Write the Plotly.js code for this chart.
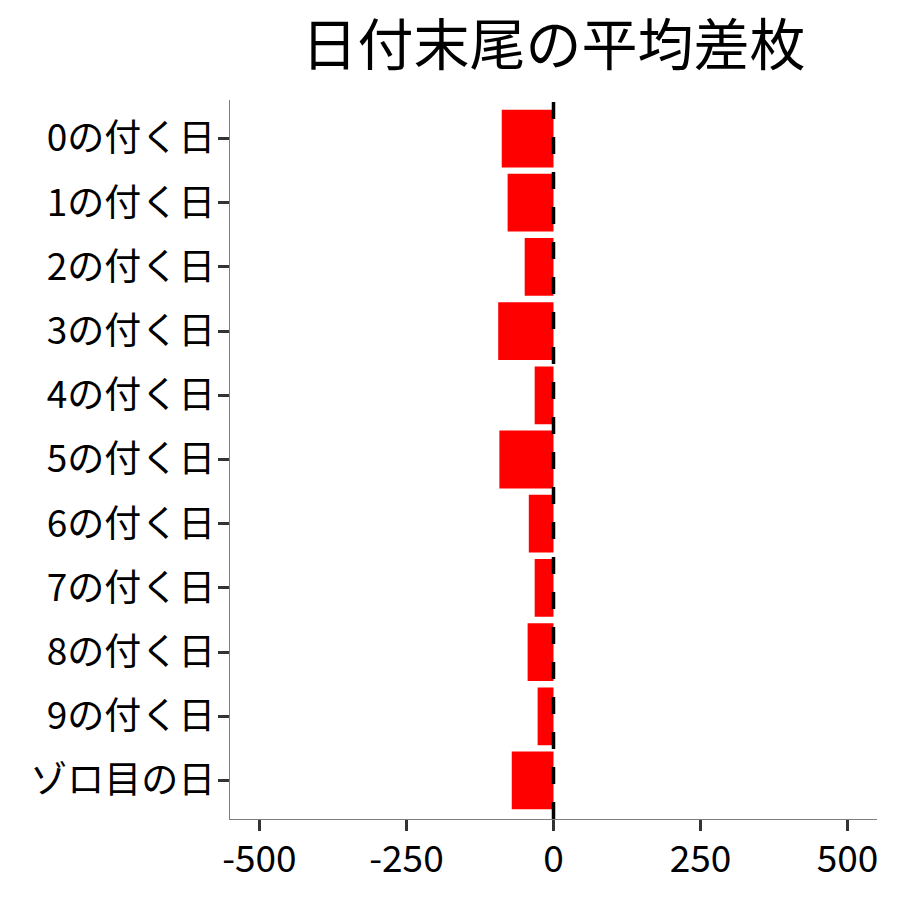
<!DOCTYPE html>
<html>
<head>
<meta charset="utf-8">
<script src="https://cdn.plot.ly/plotly-3.0.1.min.js"></script>
<style>html,body{margin:0;padding:0;background:#fff;}#chart{width:900px;height:900px;}</style>
</head>
<body>
<div id="chart"></div>
<script>
var categories = ["0の付く日","1の付く日","2の付く日","3の付く日","4の付く日","5の付く日","6の付く日","7の付く日","8の付く日","9の付く日","ゾロ目の日"];
var avgDiff = [-88, -78, -49, -94, -32, -92, -42, -32, -44, -27, -71];
var xTicks = [-500, -250, 0, 250, 500];
var refValue = 0;
var titleText = "日付末尾の平均差枚";

var font = "Noto Sans CJK JP, Noto Sans, sans-serif";

var trace = {
  type: "bar",
  orientation: "h",
  x: avgDiff,
  y: categories,
  width: 0.9,
  marker: {color: "#FF0000", line: {width: 0}},
  hoverinfo: "x+y"
};

var layout = {
  width: 900, height: 900,
  margin: {l: 230, r: 23, t: 100, b: 81, pad: 0},
  paper_bgcolor: "#fff", plot_bgcolor: "#fff",
  showlegend: false,
  font: {family: font, color: "#000"},
  title: {
    text: titleText,
    font: {family: font, size: 56, color: "#000"},
    x: 0.5, xref: "paper", xanchor: "center",
    y: 1 - 45/900, yref: "container", yanchor: "middle"
  },
  xaxis: {
    range: [-550, 550],
    tickvals: xTicks,
    ticktext: xTicks.map(String),
    showgrid: false, zeroline: false,
    showline: true, linecolor: "#7f7f7f", linewidth: 1.3,
    ticks: "outside", ticklen: 11, tickwidth: 3, tickcolor: "#333",
    ticklabelstandoff: -4,
    tickfont: {family: font, size: 37, color: "#000"}
  },
  yaxis: {
    type: "category",
    categoryorder: "array", categoryarray: categories,
    range: [categories.length - 0.4, -0.6],
    showgrid: false, zeroline: false,
    showline: true, linecolor: "#7f7f7f", linewidth: 1.3,
    ticks: "outside", ticklen: 11, tickwidth: 3, tickcolor: "#333",
    ticklabelstandoff: -5,
    tickfont: {family: font, size: 37, color: "#000"}
  },
  shapes: [{
    type: "line", xref: "x", yref: "paper",
    x0: refValue, x1: refValue, y0: 0, y1: 1,
    line: {color: "#000", width: 3.5, dash: "17px,18px"}
  }]
};

Plotly.newPlot("chart", [trace], layout, {displayModeBar: false, staticPlot: true});
</script>
</body>
</html>
